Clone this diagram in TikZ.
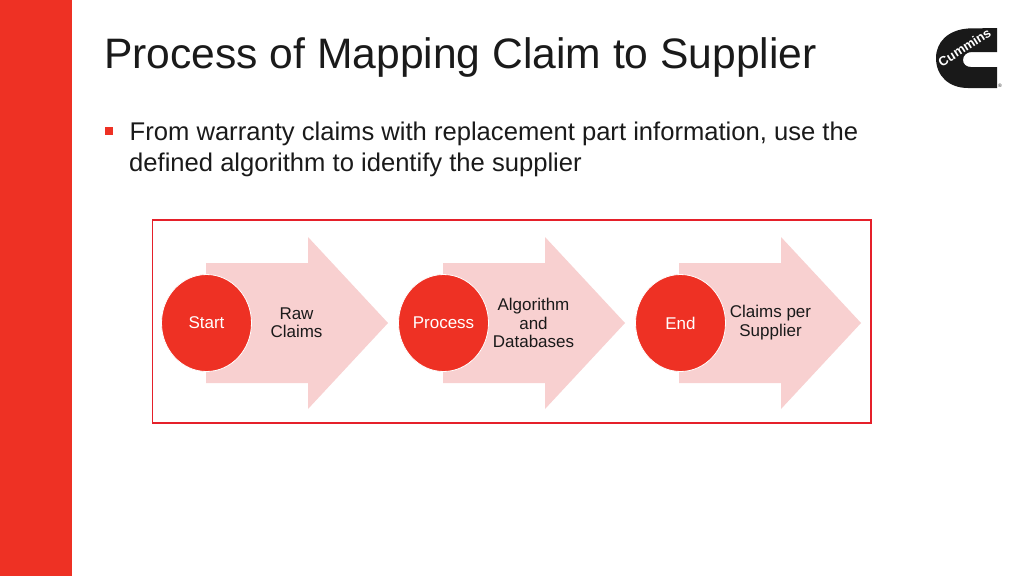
\documentclass[tikz,border=0pt]{standalone}
\usepackage{fontspec}
\setmainfont{Liberation Sans}
\usetikzlibrary{shapes.geometric}
\definecolor{cred}{HTML}{EE3124}
\definecolor{cpink}{HTML}{F8D0D0}
\definecolor{cbox}{HTML}{E5202A}
\definecolor{ctxt}{HTML}{1A1A1A}
\tikzset{
  x=1pt,y=-1pt,
  arrowshape/.style={fill=cpink,draw=none},
  circ/.style={ellipse,fill=cred,draw=white,line width=0.8pt,minimum width=90pt,minimum height=97pt,inner sep=0pt,text=white,font=\fontsize{17}{20}\selectfont},
  lbl/.style={align=center,text=ctxt,font=\fontsize{17}{18.5}\selectfont},
  plain/.style={inner sep=0pt,anchor=base west,text=ctxt}
}
\newcommand{\chev}[1]{\fill[arrowshape,shift={(#1,0)}] (206,263) -- (308,263) -- (308,237) -- (388,323) -- (308,409) -- (308,383) -- (206,383) -- cycle;}
\begin{document}
\begin{tikzpicture}
\useasboundingbox (0,0) rectangle (1024,576);
\fill[white] (0,0) rectangle (1024,576);
\fill[cred] (0,0) rectangle (72,576);
\node[plain,font=\fontsize{42.6}{50}\selectfont] (title) at (104,68.5) {Process of Mapping Claim to Supplier};
\fill[cred] (105,127) rectangle (113,135);
\node[plain,font=\fontsize{25.6}{30}\selectfont] (l1) at (129.5,140) {From warranty claims with replacement part information, use the};
\node[plain,font=\fontsize{25.6}{30}\selectfont] (l2) at (129,171) {defined algorithm to identify the supplier};
\draw[cbox,line width=1.6pt] (152.5,220) rectangle (871,423);
\chev{0}\chev{237}\chev{473}
\node[circ] (c1) at (206.5,323) {Start};
\node[circ] (c2) at (443.5,323) {Process};
\node[circ] (c3) at (680.5,323) {End};
\node[lbl] (t1) at (296.5,322.5) {Raw\\Claims};
\node[lbl] (t2) at (533.5,323) {Algorithm\\and\\Databases};
\node[lbl] (t3) at (770.5,322.5) {Claims per\\Supplier};
% logo
\fill[black!90] (997,28) -- (968,28.5) .. controls (948,30) and (936,42) .. (936,58) .. controls (936,76) and (949,88) .. (968,88) -- (997,88) -- (997,67) -- (971,67) .. controls (966,67) and (963,64) .. (963,60) .. controls (963,55) and (967,52) .. (972,52) -- (997,52) -- cycle;
\node[inner sep=0pt,rotate=32,text=white,font=\fontsize{13}{13}\selectfont\bfseries] (logo) at (964.5,47.5) {Cummins};
\node[inner sep=0pt,text=ctxt,font=\fontsize{5}{5}\selectfont] (reg) at (1000,86) {®};
\end{tikzpicture}
\end{document}
